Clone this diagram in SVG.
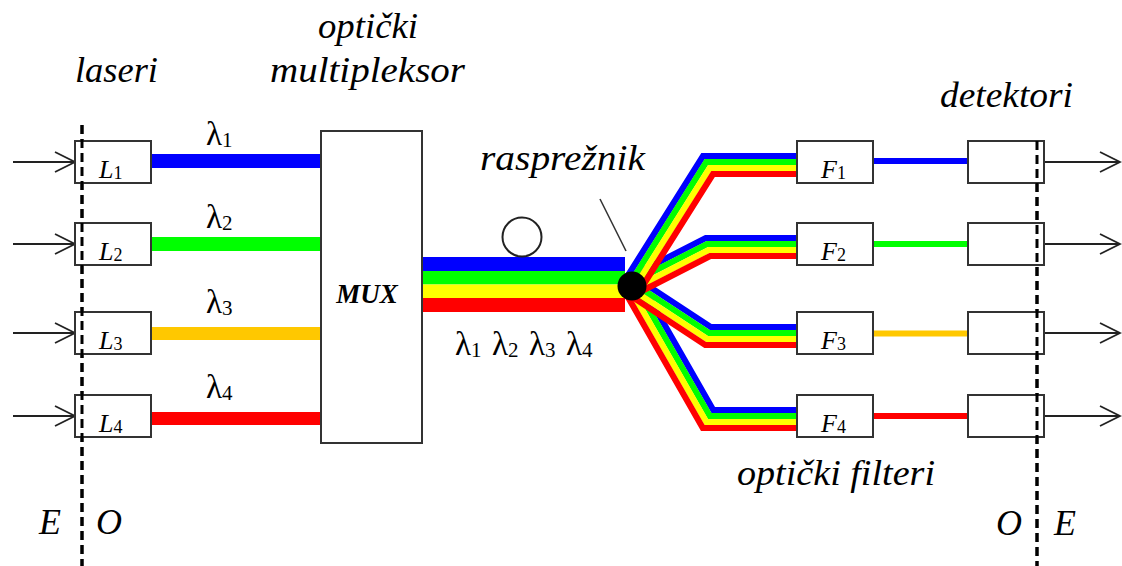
<svg xmlns="http://www.w3.org/2000/svg" width="1122" height="566" viewBox="0 0 1122 566">
<style>
.box{fill:#fff;stroke:#333;stroke-width:2}
.arrow{fill:none;stroke:#222;stroke-width:1.8}
.dash{fill:none;stroke:#000;stroke-width:3;stroke-dasharray:9 5}
.lbl{font-family:"Liberation Serif",serif;font-style:italic;font-size:36px;fill:#000}
.nm{font-family:"Liberation Serif",serif;font-style:italic;font-size:26px;fill:#000}
.sub{font-family:"Liberation Serif",serif;font-style:normal;font-size:18px}
.lam{font-family:"Liberation Serif",serif;font-size:33px;fill:#000}
.lsub{font-size:21px}
.st{fill:none;stroke-width:6.2;stroke-linejoin:miter}
.b{stroke:#0000FF}.g{stroke:#00FF00}.y{stroke:#FFFF00}.r{stroke:#FF0000}
</style>
<rect width="1122" height="566" fill="#fff"/>

<line class="dash" x1="82" y1="125" x2="82" y2="566"/>
<line class="dash" x1="1037" y1="141" x2="1037" y2="566"/>

<g id="connectors">
  <g class="arrow">
    <path d="M13 162H75M55 152L75 162L55 172"/>
    <path d="M13 244H75M55 234L75 244L55 254"/>
    <path d="M13 333H75M55 323L75 333L55 343"/>
    <path d="M13 416H75M55 406L75 416L55 426"/>
    <path d="M1044 162H1120M1100 152L1120 162L1100 172"/>
    <path d="M1044 244H1120M1100 234L1120 244L1100 254"/>
    <path d="M1044 333H1120M1100 323L1120 333L1100 343"/>
    <path d="M1044 416H1120M1100 406L1120 416L1100 426"/>
  </g>
  <rect x="150" y="154" width="172" height="14" fill="#0000FF"/>
  <rect x="150" y="237" width="172" height="14" fill="#00FF00"/>
  <rect x="150" y="327" width="172" height="13" fill="#FFC800"/>
  <rect x="150" y="412" width="172" height="13" fill="#FF0000"/>
  <rect x="421" y="257" width="204" height="14" fill="#0000FF"/>
  <rect x="421" y="271" width="204" height="13.5" fill="#00FF00"/>
  <rect x="421" y="284.5" width="204" height="13.5" fill="#FFFF00"/>
  <rect x="421" y="298" width="204" height="14" fill="#FF0000"/>
  <g id="fan4">
    <polyline class="st b" points="639.8,281.5 713.2,410 798,410"/>
    <polyline class="st g" points="634.6,284.5 709.7,416 798,416"/>
    <polyline class="st y" points="629.4,287.5 706.3,422 798,422"/>
    <polyline class="st r" points="624.2,290.5 702.8,428 798,428"/>
  </g>
  <g id="fan3">
    <polyline class="st b" points="636.9,278.5 710.7,327 798,327"/>
    <polyline class="st g" points="633.6,283.5 708.9,333 798,333"/>
    <polyline class="st y" points="630.4,288.5 707.1,339 798,339"/>
    <polyline class="st r" points="627.1,293.5 705.3,345 798,345"/>
  </g>
  <g id="fan2">
    <polyline class="st b" points="627.9,278 705.8,238 798,238"/>
    <polyline class="st g" points="630.6,283.3 707.3,244 798,244"/>
    <polyline class="st y" points="633.4,288.7 708.7,250 798,250"/>
    <polyline class="st r" points="636.1,294 710.2,256 798,256"/>
  </g>
  <g id="fan1">
    <polyline class="st b" points="624.4,281.2 703,156 798,156"/>
    <polyline class="st g" points="629.5,284.4 706.3,162 798,162"/>
    <polyline class="st y" points="634.5,287.6 709.7,168 798,168"/>
    <polyline class="st r" points="639.6,290.8 713,174 798,174"/>
  </g>
  <line x1="872" y1="161" x2="969" y2="161" stroke="#0000FF" stroke-width="6"/>
  <line x1="872" y1="244" x2="969" y2="244" stroke="#00FF00" stroke-width="6"/>
  <line x1="872" y1="333.5" x2="969" y2="333.5" stroke="#FFC800" stroke-width="6"/>
  <line x1="872" y1="416" x2="969" y2="416" stroke="#FF0000" stroke-width="6"/>
  <line x1="600" y1="199" x2="626" y2="251" stroke="#333" stroke-width="1.6"/>
</g>

<g id="coupler"><circle cx="632" cy="286" r="14.5" fill="#000"/></g>
<g id="loop"><circle cx="522" cy="237" r="19.5" fill="none" stroke="#222" stroke-width="2"/></g>

<g id="L1"><rect class="box" x="75" y="141" width="76" height="42"/><text class="nm" x="99" y="178">L<tspan class="sub" dy="1">1</tspan></text></g>
<g id="L2"><rect class="box" x="75" y="223" width="76" height="42"/><text class="nm" x="99" y="260">L<tspan class="sub" dy="1">2</tspan></text></g>
<g id="L3"><rect class="box" x="75" y="312" width="76" height="42"/><text class="nm" x="99" y="349">L<tspan class="sub" dy="1">3</tspan></text></g>
<g id="L4"><rect class="box" x="75" y="395" width="76" height="42"/><text class="nm" x="99" y="432">L<tspan class="sub" dy="1">4</tspan></text></g>

<line class="dash" x1="82" y1="125" x2="82" y2="566"/>

<g id="MUX"><rect class="box" x="321" y="131" width="101" height="312" stroke-width="2.5"/><text x="367" y="303" text-anchor="middle" font-family="Liberation Serif, serif" font-style="italic" font-weight="bold" font-size="27">MUX</text></g>

<g id="F1"><rect class="box" x="797" y="141" width="76" height="42"/><text class="nm" x="821" y="178">F<tspan class="sub" dy="1">1</tspan></text></g>
<g id="F2"><rect class="box" x="797" y="223" width="76" height="42"/><text class="nm" x="821" y="260">F<tspan class="sub" dy="1">2</tspan></text></g>
<g id="F3"><rect class="box" x="797" y="312" width="76" height="42"/><text class="nm" x="821" y="349">F<tspan class="sub" dy="1">3</tspan></text></g>
<g id="F4"><rect class="box" x="797" y="395" width="76" height="42"/><text class="nm" x="821" y="432">F<tspan class="sub" dy="1">4</tspan></text></g>

<g id="D1"><rect class="box" x="968" y="141" width="76" height="42"/></g>
<g id="D2"><rect class="box" x="968" y="223" width="76" height="42"/></g>
<g id="D3"><rect class="box" x="968" y="312" width="76" height="42"/></g>
<g id="D4"><rect class="box" x="968" y="395" width="76" height="42"/></g>
<line class="dash" x1="1037" y1="141" x2="1037" y2="566"/>

<g id="lambdas">
  <text class="lam" x="206" y="145">λ<tspan class="lsub" dy="2">1</tspan></text>
  <text class="lam" x="206" y="228">λ<tspan class="lsub" dy="2">2</tspan></text>
  <text class="lam" x="206" y="313">λ<tspan class="lsub" dy="2">3</tspan></text>
  <text class="lam" x="206" y="398">λ<tspan class="lsub" dy="2">4</tspan></text>
  <text class="lam" x="455" y="355">λ<tspan class="lsub" dy="2">1</tspan></text>
  <text class="lam" x="492" y="355">λ<tspan class="lsub" dy="2">2</tspan></text>
  <text class="lam" x="529" y="355">λ<tspan class="lsub" dy="2">3</tspan></text>
  <text class="lam" x="566" y="355">λ<tspan class="lsub" dy="2">4</tspan></text>
</g>

<text class="lbl" x="75" y="82" textLength="83" lengthAdjust="spacingAndGlyphs">laseri</text>
<text class="lbl" x="318" y="38" textLength="100" lengthAdjust="spacingAndGlyphs">optički</text>
<text class="lbl" x="270" y="82" textLength="195" lengthAdjust="spacingAndGlyphs">multipleksor</text>
<text class="lbl" x="480" y="170" textLength="165" lengthAdjust="spacingAndGlyphs">rasprežnik</text>
<text class="lbl" x="940" y="107" textLength="133" lengthAdjust="spacingAndGlyphs">detektori</text>
<text class="lbl" x="737" y="485" textLength="198" lengthAdjust="spacingAndGlyphs">optički filteri</text>
<text class="lbl" x="39" y="534">E</text>
<text class="lbl" x="96" y="534">O</text>
<text class="lbl" x="996" y="535">O</text>
<text class="lbl" x="1054" y="535">E</text>
</svg>
